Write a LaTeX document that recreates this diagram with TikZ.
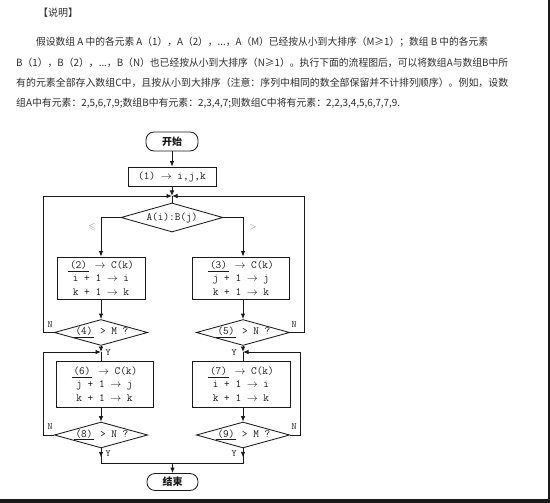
\documentclass[tikz,border=0pt]{standalone}
\usepackage{fontspec}
\usepackage{amssymb}
\usepackage{graphicx}
\usetikzlibrary{shapes.geometric,arrows.meta}
\newfontfamily\cjk{Noto Sans CJK SC}
\definecolor{ink}{HTML}{1A1A1A}
\definecolor{txt}{HTML}{2E2E2E}
\newcommand{\blank}[1]{\underline{\,#1\,}}
\newcommand{\ra}{$\rightarrow$}
\begin{document}
\begin{tikzpicture}[x=1pt,y=-1pt,
  line/.style={draw=ink,line width=0.85pt},
  arr/.style={line,-{Latex[length=5.5pt,width=4.5pt]}},
  box/.style={draw=ink,line width=0.85pt,rectangle,inner sep=0pt,align=center,font=\ttfamily\fontsize{11}{13.5}\selectfont,text=ink},
  dia/.style={draw=ink,line width=0.85pt,diamond,aspect=3.6,inner sep=0pt,font=\ttfamily\fontsize{11}{13}\selectfont,text=ink},
  term/.style={draw=ink,line width=0.85pt,rectangle,rounded corners=8pt,inner sep=0pt,font=\cjk\bfseries\fontsize{10}{12}\selectfont,text=ink},
  lab/.style={font=\ttfamily\fontsize{9.5}{10}\selectfont,text=ink,inner sep=0pt},
  para/.style={anchor=west,inner sep=0pt,font=\cjk\fontsize{10}{12}\selectfont,text=txt}
]
\useasboundingbox (0,0) rectangle (550,503);
\fill[white] (0,0) rectangle (550,503);
\fill[ink] (0,499) rectangle (550,503);
\fill[ink] (548,0) rectangle (550,503);

% paragraph
\node[para] (t0) at (38,13) {【说明】};
\node[para] (t1) at (36,42) {\resizebox{452pt}{\height}{假设数组 A 中的各元素 A（1），A（2），...，A（M）已经按从小到大排序（M≥1）；数组 B 中的各元素}};
\node[para] (t2) at (16,63) {\resizebox{492pt}{\height}{B（1），B（2），...，B（N）也已经按从小到大排序（N≥1）。执行下面的流程图后，可以将数组A与数组B中所}};
\node[para] (t3) at (16,83) {\resizebox{492pt}{\height}{有的元素全部存入数组C中，且按从小到大排序（注意：序列中相同的数全部保留并不计排列顺序）。例如，设数}};
\node[para] (t4) at (16,103) {\resizebox{384pt}{\height}{组A中有元素：2,5,6,7,9;数组B中有元素：2,3,4,7;则数组C中将有元素：2,2,3,4,5,6,7,7,9.}};

% flowchart nodes
\node[term,minimum width=52pt,minimum height=19pt] (start) at (172,141.5) {开始};
\node[box,minimum width=88pt,minimum height=19pt] (b1) at (172,176.5) {(1) \ra{} i,j,k};
\coordinate (jt) at (172,196);
\coordinate (lx) at (43,0);
\coordinate (rx) at (304,0);
\coordinate (rx2) at (300,0);
\node[dia,minimum width=102pt,minimum height=29pt] (d0) at (172,217.5) {A(i):B(j)};
\node[box,minimum width=88pt,minimum height=42pt] (b2) at (101,278) {\blank{(2)} \ra{} C(k)\\ i + 1 \ra{} i\\ k + 1 \ra{} k};
\node[box,minimum width=97pt,minimum height=42pt] (b3) at (241,278) {\blank{(3)} \ra{} C(k)\\ j + 1 \ra{} j\\ k + 1 \ra{} k};
\node[dia,minimum width=90pt,minimum height=25pt] (d4) at (101,332.5) {\blank{(4)} > M ?};
\node[dia,minimum width=90pt,minimum height=25pt] (d5) at (243,332.5) {\blank{(5)} > N ?};
\coordinate (j6) at (101,352);
\coordinate (j7) at (243,352);
\node[box,minimum width=97pt,minimum height=46pt] (b6) at (104.5,384) {\blank{(6)} \ra{} C(k)\\ j + 1 \ra{} j\\ k + 1 \ra{} k};
\node[box,minimum width=98pt,minimum height=46pt] (b7) at (241,384) {\blank{(7)} \ra{} C(k)\\ i + 1 \ra{} i\\ k + 1 \ra{} k};
\node[dia,minimum width=90pt,minimum height=24pt] (d8) at (101,435) {\blank{(8)} > N ?};
\node[dia,minimum width=90pt,minimum height=24pt] (d9) at (243,435) {\blank{(9)} > M ?};
\coordinate (jbL) at (101,463);
\coordinate (jbR) at (243,463);
\coordinate (jb) at (172.5,463);
\node[term,minimum width=51pt,minimum height=17pt] (end) at (172.5,482) {结束};

% connectors
\draw[arr] (start) -- (b1);
\draw[arr] (b1) -- (jt);
\draw[line] (jt) -- (d0.north);
\draw[arr] (d0.west) -| (b2.north);
\draw[arr] (d0.east) -| (b3.north -| d5.north);
\draw[arr] (b2.south) -- (d4.north);
\draw[arr] (b3.south -| d5.north) -- (d5.north);
\draw[arr] (d4.west) -- (d4.west -| lx) |- (jt);
\draw[arr] (d5.east) -- (d5.east -| rx) |- (jt);
\draw[arr] (d4.south) -- (j6);
\draw[line] (j6) -- (j6 |- b6.north);
\draw[arr] (d8.west) -- (d8.west -| lx) |- (j6);
\draw[arr] (d5.south) -- (j7);
\draw[line] (j7) -- (j7 |- b7.north);
\draw[arr] (d9.east) -- (d9.east -| rx2) |- (j7);
\draw[arr] (b6.south -| d8.north) -- (d8.north);
\draw[arr] (b7.south -| d9.north) -- (d9.north);
\draw[line] (d8.south) -- (jbL) -- (jbR) -- (d9.south);
\draw[arr] (d8.south) -- ++(0,9);
\draw[arr] (d9.south) -- ++(0,9);
\draw[arr] (jb) -- (end);

% labels
\node[lab,text=gray] (le) at (92,227) {$\leqslant$};
\node[lab,text=gray] (gt) at (253,227) {$>$};
\node[lab] (n1) at (50,325) {N};
\node[lab] (n2) at (294,325) {N};
\node[lab] (n3) at (50,427) {N};
\node[lab] (n4) at (294,427) {N};
\node[lab] (y1) at (108,353) {Y};
\node[lab] (y2) at (234,353) {Y};
\node[lab] (y3) at (108,454) {Y};
\node[lab] (y4) at (234,454) {Y};
\end{tikzpicture}
\end{document}
